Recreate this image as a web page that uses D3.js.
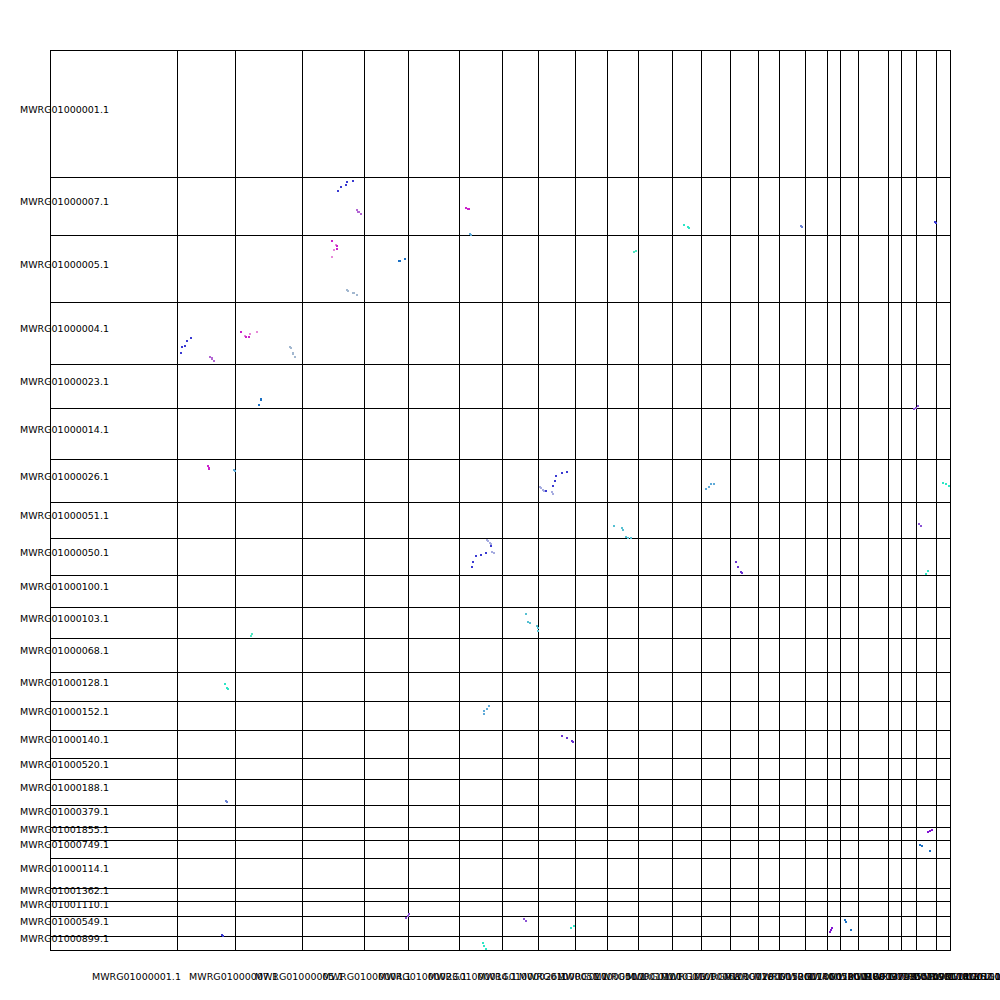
<!DOCTYPE html>
<html>
<head>
<meta charset="utf-8">
<script src="https://cdn.jsdelivr.net/npm/d3@7"></script>
<style>
  html, body { margin: 0; padding: 0; background: #ffffff; }
  svg { display: block; }
  text { font-family: "DejaVu Sans", sans-serif; font-size: 9.5px; fill: #000; }
</style>
</head>
<body>
<script>
// Contigs (same order on both axes) and their sizes (in 10-kb units)
const contigNames = [
  "MWRG01000001.1","MWRG01000007.1","MWRG01000005.1","MWRG01000004.1","MWRG01000023.1",
  "MWRG01000014.1","MWRG01000026.1","MWRG01000051.1","MWRG01000050.1","MWRG01000100.1",
  "MWRG01000103.1","MWRG01000068.1","MWRG01000128.1","MWRG01000152.1","MWRG01000140.1",
  "MWRG01000520.1","MWRG01000188.1","MWRG01000379.1","MWRG01001855.1","MWRG01000749.1",
  "MWRG01000114.1","MWRG01001362.1","MWRG01001110.1","MWRG01000549.1","MWRG01000899.1"
];
const contigSizes = [127,58,67,62,44,51,43,36,37,32,31,34,29,29,28,21,26,22,13,18,30,13,15,20,14];

// Hit positions along the concatenated axis (one half; the plot is mirrored)
const hitQuery = [
  287,290,295,296,302, 306,307,308,310, 415,417,418, 419,420,
  281,285,286,283,286,281, 296,297,302,303,306, 348,349,354,
  583,585, 633,637,638, 750,751, 884,885, 863,865,867,
  516,511,505,504,502,495, 489,490,492,493,501,502,
  655,658,660,663, 892,895,898,
  563,571,572,575,577,580, 868,870,
  685,687,690,691, 875,877,
  877,879,881, 869,871,879
];
const hitTarget = [
  140,136,134,131,130, 159,161,161,163, 157,158,158, 183,184,
  190,194,195,199,198,206, 239,240,242,242,244, 210,210,208,
  201,200, 174,176,177, 175,176, 171,172, 358,357,355,
  421,422,425,430,435,440, 436,437,439,440,441,443,
  438,436,433,433, 432,433,435,
  475,477,479,486,487,487, 473,475,
  511,516,521,522, 523,520,
  781,780,779, 794,795,800
];
const hitClass = [
  "B","B","B","B","B", "P","P","P","P", "M","M","M", "L","L",
  "M","K","M","K","M","K", "S","S","S","S","S", "D","D","D",
  "E","E", "C","C","C", "U","U", "B","B", "W","W","W",
  "B","B","B","B","B","B", "Q","Q","Q","Q","Q","Q",
  "L","L","L","L", "C","C","C",
  "T","T","T","T","T","T", "W","W",
  "V","V","V","V", "C","C",
  "X","X","X", "D","D","D"
];
const classKeys = ["B","P","M","K","S","D","L","C","E","T","U","W","Q","V","X"];
const classColours = ["#3a3ad2","#b366d4","#cc22cc","#e78ad8","#a3b8d0","#1a70c4","#5eaad8",
                      "#2ee6c6","#52e6c2","#56c0d2","#6a82d4","#8a52d4","#a6ace0","#6a32d2","#8214d2"];

const W = 1000, H = 1000;
const svg = d3.select("body").append("svg").attr("width", W).attr("height", H);
svg.append("rect").attr("width", W).attr("height", H).attr("fill", "#fff");

const total = d3.sum(contigSizes);
const bounds = [0].concat(Array.from(d3.cumsum(contigSizes)));
const mids = contigSizes.map((s, i) => bounds[i] + s / 2);

const x = d3.scaleLinear().domain([0, total]).range([50, 950]);
const y = d3.scaleLinear().domain([0, total]).range([50, 950]);
const xLabel = d3.scaleLinear().domain([0, total]).range([25.3, 970.3]);
const colour = d3.scaleOrdinal().domain(classKeys).range(classColours);

// Grid lines
const g = svg.append("g");
g.append("g").selectAll("line").data(bounds).join("line")
  .attr("x1", d => Math.round(x(d)) + 0.5).attr("x2", d => Math.round(x(d)) + 0.5)
  .attr("y1", 50).attr("y2", 951)
  .attr("stroke", "#000").attr("stroke-width", 1);
g.append("g").selectAll("line").data(bounds).join("line")
  .attr("y1", d => Math.round(y(d)) + 0.5).attr("y2", d => Math.round(y(d)) + 0.5)
  .attr("x1", 50).attr("x2", 951)
  .attr("stroke", "#000").attr("stroke-width", 1);

// Hits (both orientations)
const hits = hitQuery.map((q, i) => ({q, t: hitTarget[i], c: hitClass[i]}));
const pts = hits.concat(hits.map(h => ({q: h.t, t: h.q, c: h.c})));
svg.append("g").selectAll("rect").data(pts).join("rect")
  .attr("x", d => x(d.q)).attr("y", d => y(d.t))
  .attr("width", 2).attr("height", 2)
  .attr("fill", d => colour(d.c));

// Y labels
svg.append("g").selectAll("text").data(contigNames).join("text")
  .attr("x", 20).attr("y", (d, i) => y(mids[i]) - 1)
  .text(d => d);

// X labels
svg.append("g").selectAll("text").data(contigNames).join("text")
  .attr("x", (d, i) => xLabel(mids[i])).attr("y", 980)
  .text(d => d);
</script>
</body>
</html>
